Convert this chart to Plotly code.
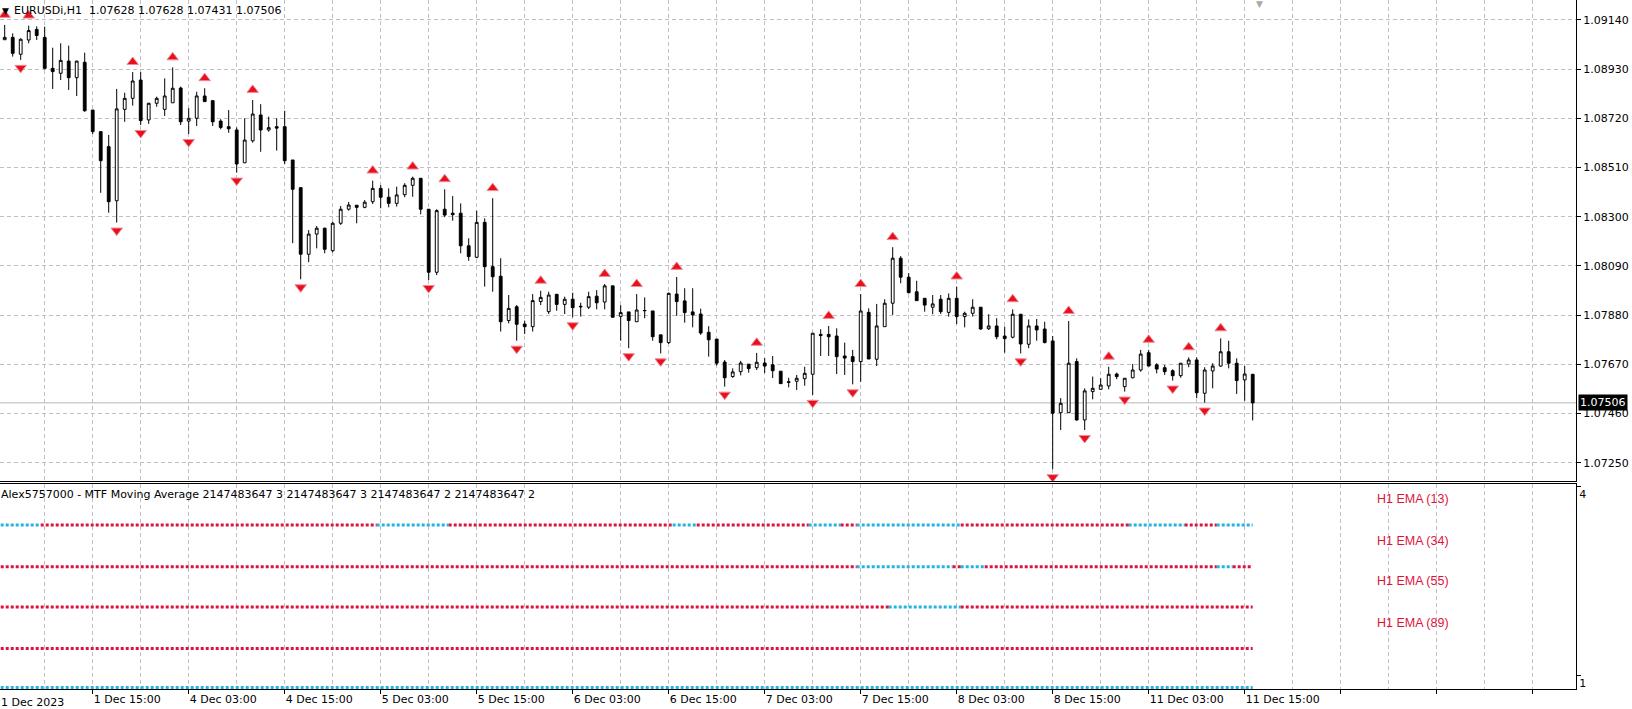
import plotly.graph_objects as go

# ---------------- data (EURUSDi, H1) ----------------
open_ = [
    1.09055, 1.09065, 1.08993, 1.09054, 1.09099, 1.09065, 1.08933, 1.08912, 1.08964, 1.08893,
    1.08959, 1.08755, 1.08663, 1.08599, 1.08368, 1.08758, 1.08805, 1.08883, 1.08713, 1.08784,
    1.08758, 1.08786, 1.08849, 1.08708, 1.08720, 1.08815, 1.08795, 1.08708, 1.08684, 1.08670,
    1.08530, 1.08624, 1.08734, 1.08670, 1.08684, 1.08684, 1.08542, 1.08424, 1.08140, 1.08226,
    1.08251, 1.08155, 1.08272, 1.08332, 1.08349, 1.08340, 1.08364, 1.08421, 1.08383, 1.08357,
    1.08394, 1.08434, 1.08464, 1.08332, 1.08063, 1.08332, 1.08315, 1.08315, 1.08176, 1.08127,
    1.08276, 1.08087, 1.08046, 1.07857, 1.07916, 1.07842, 1.07831, 1.07938, 1.07895, 1.07969,
    1.07926, 1.07948, 1.07918, 1.07914, 1.07961, 1.07936, 1.08005, 1.07875, 1.07894, 1.07852,
    1.07899, 1.07898, 1.07796, 1.07763, 1.07970, 1.07941, 1.07894, 1.07885, 1.07807, 1.07778,
    1.07680, 1.07618, 1.07639, 1.07671, 1.07656, 1.07676, 1.07668, 1.07641, 1.07596, 1.07598,
    1.07609, 1.07628, 1.07798, 1.07798, 1.07791, 1.07706, 1.07703, 1.07682, 1.07892, 1.07692,
    1.07831, 1.07931, 1.08123, 1.08042, 1.07980, 1.07952, 1.07914, 1.07948, 1.07892, 1.07952,
    1.07874, 1.07888, 1.07914, 1.07822, 1.07834, 1.07791, 1.07786, 1.07884, 1.07756, 1.07834,
    1.07821, 1.07770, 1.07464, 1.07464, 1.07682, 1.07433, 1.07554, 1.07564, 1.07578, 1.07629,
    1.07575, 1.07613, 1.07646, 1.07720, 1.07668, 1.07656, 1.07643, 1.07622, 1.07672, 1.07689,
    1.07547, 1.07642, 1.07663, 1.07724, 1.07675, 1.07604, 1.07628,
]
high_ = [
    1.09118, 1.09082, 1.09061, 1.09115, 1.09112, 1.09111, 1.09021, 1.09040, 1.09030, 1.08965,
    1.09000, 1.08755, 1.08663, 1.08649, 1.08845, 1.08829, 1.08917, 1.08917, 1.08786, 1.08812,
    1.08890, 1.08937, 1.08855, 1.08763, 1.08833, 1.08848, 1.08798, 1.08716, 1.08755, 1.08681,
    1.08720, 1.08798, 1.08780, 1.08727, 1.08720, 1.08752, 1.08542, 1.08424, 1.08243, 1.08260,
    1.08253, 1.08279, 1.08346, 1.08363, 1.08349, 1.08371, 1.08454, 1.08435, 1.08421, 1.08428,
    1.08443, 1.08471, 1.08464, 1.08332, 1.08332, 1.08417, 1.08388, 1.08357, 1.08208, 1.08326,
    1.08293, 1.08379, 1.08123, 1.07966, 1.07923, 1.07857, 1.07970, 1.07984, 1.07980, 1.07969,
    1.07959, 1.07976, 1.07933, 1.07980, 1.07987, 1.08013, 1.08005, 1.07923, 1.07894, 1.07970,
    1.07956, 1.07898, 1.07796, 1.07977, 1.08043, 1.07995, 1.07995, 1.07908, 1.07833, 1.07778,
    1.07689, 1.07653, 1.07685, 1.07671, 1.07719, 1.07697, 1.07706, 1.07641, 1.07613, 1.07625,
    1.07660, 1.07803, 1.07820, 1.07834, 1.07824, 1.07763, 1.07732, 1.07970, 1.07909, 1.07928,
    1.07948, 1.08170, 1.08132, 1.08059, 1.08027, 1.07952, 1.07966, 1.07966, 1.07973, 1.08002,
    1.07895, 1.07948, 1.07914, 1.07884, 1.07867, 1.07831, 1.07905, 1.07884, 1.07862, 1.07864,
    1.07852, 1.07791, 1.07526, 1.07855, 1.07696, 1.07568, 1.07618, 1.07611, 1.07660, 1.07635,
    1.07611, 1.07672, 1.07732, 1.07732, 1.07675, 1.07668, 1.07649, 1.07675, 1.07700, 1.07700,
    1.07658, 1.07675, 1.07781, 1.07771, 1.07696, 1.07663, 1.07628,
]
low_ = [
    1.09054, 1.08983, 1.08969, 1.09040, 1.09054, 1.08929, 1.08845, 1.08883, 1.08841, 1.08815,
    1.08748, 1.08653, 1.08402, 1.08317, 1.08275, 1.08705, 1.08774, 1.08691, 1.08696, 1.08769,
    1.08730, 1.08786, 1.08691, 1.08653, 1.08687, 1.08791, 1.08687, 1.08673, 1.08658, 1.08488,
    1.08530, 1.08616, 1.08577, 1.08663, 1.08582, 1.08525, 1.08187, 1.08033, 1.08106, 1.08165,
    1.08144, 1.08148, 1.08265, 1.08326, 1.08272, 1.08336, 1.08354, 1.08336, 1.08340, 1.08343,
    1.08383, 1.08385, 1.08310, 1.08030, 1.08051, 1.08298, 1.08283, 1.08144, 1.08112, 1.08123,
    1.08002, 1.07980, 1.07810, 1.07845, 1.07771, 1.07800, 1.07810, 1.07923, 1.07885, 1.07899,
    1.07885, 1.07871, 1.07874, 1.07906, 1.07905, 1.07905, 1.07871, 1.07771, 1.07739, 1.07852,
    1.07867, 1.07771, 1.07717, 1.07757, 1.07877, 1.07848, 1.07828, 1.07796, 1.07703, 1.07665,
    1.07575, 1.07613, 1.07623, 1.07635, 1.07646, 1.07633, 1.07612, 1.07587, 1.07572, 1.07561,
    1.07579, 1.07540, 1.07706, 1.07706, 1.07629, 1.07625, 1.07585, 1.07596, 1.07693, 1.07663,
    1.07831, 1.07881, 1.08016, 1.07973, 1.07942, 1.07895, 1.07884, 1.07885, 1.07874, 1.07842,
    1.07828, 1.07874, 1.07817, 1.07817, 1.07777, 1.07720, 1.07781, 1.07717, 1.07739, 1.07771,
    1.07760, 1.07223, 1.07390, 1.07464, 1.07430, 1.07390, 1.07521, 1.07561, 1.07564, 1.07607,
    1.07554, 1.07611, 1.07639, 1.07663, 1.07632, 1.07625, 1.07601, 1.07613, 1.07658, 1.07526,
    1.07507, 1.07568, 1.07660, 1.07653, 1.07544, 1.07515, 1.07431,
]
close_ = [
    1.09065, 1.08997, 1.09057, 1.09094, 1.09073, 1.08933, 1.08919, 1.08967, 1.08893, 1.08964,
    1.08752, 1.08663, 1.08539, 1.08364, 1.08760, 1.08805, 1.08879, 1.08710, 1.08784, 1.08805,
    1.08815, 1.08848, 1.08705, 1.08720, 1.08815, 1.08791, 1.08705, 1.08681, 1.08675, 1.08525,
    1.08627, 1.08738, 1.08670, 1.08680, 1.08678, 1.08539, 1.08417, 1.08140, 1.08226, 1.08251,
    1.08161, 1.08272, 1.08332, 1.08350, 1.08340, 1.08362, 1.08421, 1.08383, 1.08357, 1.08393,
    1.08434, 1.08464, 1.08332, 1.08063, 1.08326, 1.08307, 1.08309, 1.08176, 1.08130, 1.08276,
    1.08087, 1.08044, 1.07852, 1.07909, 1.07841, 1.07831, 1.07942, 1.07956, 1.07966, 1.07926,
    1.07948, 1.07912, 1.07916, 1.07959, 1.07933, 1.08005, 1.07871, 1.07891, 1.07857, 1.07902,
    1.07900, 1.07788, 1.07763, 1.07973, 1.07938, 1.07891, 1.07881, 1.07804, 1.07775, 1.07675,
    1.07613, 1.07638, 1.07676, 1.07652, 1.07679, 1.07663, 1.07643, 1.07588, 1.07594, 1.07611,
    1.07632, 1.07803, 1.07793, 1.07788, 1.07703, 1.07697, 1.07682, 1.07898, 1.07693, 1.07834,
    1.07931, 1.08123, 1.08042, 1.07976, 1.07942, 1.07923, 1.07928, 1.07895, 1.07952, 1.07874,
    1.07888, 1.07914, 1.07821, 1.07834, 1.07788, 1.07780, 1.07884, 1.07757, 1.07834, 1.07817,
    1.07763, 1.07462, 1.07504, 1.07675, 1.07433, 1.07557, 1.07568, 1.07582, 1.07628, 1.07618,
    1.07611, 1.07646, 1.07714, 1.07663, 1.07650, 1.07639, 1.07622, 1.07675, 1.07689, 1.07549,
    1.07646, 1.07663, 1.07724, 1.07675, 1.07601, 1.07629, 1.07506,
]
assert len(open_) == len(high_) == len(low_) == len(close_)

# fractal arrows (bar indexes)
up_fractal_bars = [0, 3, 16, 21, 25, 31, 46, 51, 55, 61, 67, 75, 79, 84, 94, 103, 107, 111,
                   119, 126, 133, 138, 143, 148, 152]
down_fractal_bars = [2, 14, 17, 23, 29, 37, 53, 64, 71, 78, 82, 90, 101, 106, 127, 131, 135,
                     140, 146, 150]

# time axis labels (bar index -> label)
time_tick_bars = [-1, 11, 23, 35, 47, 59, 71, 83, 95, 107, 119, 131, 143, 155]
time_tick_text = ["1 Dec 2023", "1 Dec 15:00", "4 Dec 03:00", "4 Dec 15:00", "5 Dec 03:00",
                  "5 Dec 15:00", "6 Dec 03:00", "6 Dec 15:00", "7 Dec 03:00", "7 Dec 15:00",
                  "8 Dec 03:00", "8 Dec 15:00", "11 Dec 03:00", "11 Dec 15:00"]

price_ticks = [1.09140, 1.08930, 1.08720, 1.08510, 1.08300, 1.08090, 1.07880, 1.07670,
               1.07460, 1.07250]

# MTF moving average sub-window
ma_names = ["H1 EMA (13)", "H1 EMA (34)", "H1 EMA (55)", "H1 EMA (89)", ""]
ma_levels = [3.38, 2.72, 2.08, 1.42, 0.80]
ma_up_runs = [
    [(0, 4), (47, 55), (84, 86), (101, 104), (107, 119), (141, 147), (152, 156)],
    [(107, 118), (120, 122), (152, 153)],
    [(111, 119)],
    [],
    [(0, 156)],
]
sub_ticks = [4, 1]

symbol_name = "EURUSDi,H1"
indicator_title = ("Alex5757000 - MTF Moving Average 2147483647 3 2147483647 3 "
                   "2147483647 2 2147483647 2")

# ---------------- styling ----------------
FONT = "DejaVu Sans"
GRID = "#C0C0C0"
GRID_DASH = "4px,3px"
UP_COL = "#22B4E2"
DN_COL = "#DC143C"
ARROW_RED = "#E8101C"
ARROW_EDGE = "#F08C98"

n = len(open_)
bars = list(range(n))
x_lo, x_hi = -0.5875, 196.4125
upper_dom = [0.3012, 1.0]
lower_dom = [0.0, 0.2975]
price_rng = [1.071706, 1.092245]
sub_rng = [0.778, 4.032]

fig = go.Figure()

fig.add_trace(go.Candlestick(
    x=bars, open=open_, high=high_, low=low_, close=close_,
    increasing=dict(line=dict(color="black", width=1), fillcolor="white"),
    decreasing=dict(line=dict(color="black", width=1), fillcolor="black"),
    whiskerwidth=0, xaxis="x", yaxis="y", hoverinfo="skip", showlegend=False,
))

UP_GAP = 0.00043
DN_GAP = 0.00034
fig.add_trace(go.Scatter(
    x=up_fractal_bars, y=[high_[i] + UP_GAP for i in up_fractal_bars],
    mode="markers", xaxis="x", yaxis="y", hoverinfo="skip", showlegend=False,
    marker=dict(symbol="triangle-up", size=10, color=ARROW_RED,
                line=dict(color=ARROW_EDGE, width=1)),
))
fig.add_trace(go.Scatter(
    x=down_fractal_bars, y=[low_[i] - DN_GAP for i in down_fractal_bars],
    mode="markers", xaxis="x", yaxis="y", hoverinfo="skip", showlegend=False,
    marker=dict(symbol="triangle-down", size=10, color=ARROW_RED,
                line=dict(color=ARROW_EDGE, width=1)),
))


def runs_of(up_runs, count):
    state = [False] * count
    for a, b in up_runs:
        for i in range(a, b + 1):
            state[i] = True
    out, start = [], 0
    for i in range(1, count + 1):
        if i == count or state[i] != state[start]:
            out.append((start, i - 1, state[start]))
            start = i
    return out


for level, up_runs in zip(ma_levels, ma_up_runs):
    xs = {True: [], False: []}
    ys = {True: [], False: []}
    for a, b, is_up in runs_of(up_runs, n):
        xs[is_up] += [a - 0.5, min(b + 0.5, n - 1), None]
        ys[is_up] += [level, level, None]
    for is_up, col in ((True, UP_COL), (False, DN_COL)):
        if xs[is_up]:
            fig.add_trace(go.Scatter(
                x=xs[is_up], y=ys[is_up], mode="lines", xaxis="x2", yaxis="y2",
                line=dict(color=col, width=3, dash="3px,2px"), connectgaps=False,
                cliponaxis=False, hoverinfo="skip", showlegend=False,
            ))

grid_major = [b for b in range(11, int(x_hi) + 1, 12)]
grid_minor = [b for b in range(5, int(x_hi) + 1, 12)]
in_range_ticks = [(b, t) for b, t in zip(time_tick_bars, time_tick_text) if b >= x_lo]
out_range_ticks = [(b, t) for b, t in zip(time_tick_bars, time_tick_text) if b < x_lo]

common_x = dict(
    range=[x_lo, x_hi], showgrid=True, gridcolor=GRID, griddash=GRID_DASH, gridwidth=1,
    zeroline=False, showline=True, linecolor="black", linewidth=1, mirror=True,
    minor=dict(tickmode="array", tickvals=grid_minor, showgrid=True, gridcolor=GRID,
               griddash=GRID_DASH, gridwidth=1, ticks=""),
)

extra_grid = [b for b in grid_major if b > time_tick_bars[-1]]

fig.update_layout(
    width=1632, height=709,
    margin=dict(l=0, r=56, t=0, b=20),
    paper_bgcolor="white", plot_bgcolor="white",
    font=dict(family=FONT, size=11, color="black"),
    hovermode=False, showlegend=False,
    boxgap=0.5,
    xaxis=dict(domain=[0, 1], anchor="y", showticklabels=False, ticks="",
               tickmode="array", tickvals=grid_major,
               rangeslider=dict(visible=False), **common_x),
    xaxis2=dict(domain=[0, 1], anchor="y2", tickmode="array",
                tickvals=[b for b, _ in in_range_ticks] + extra_grid,
                ticktext=[t for _, t in in_range_ticks] + ["" for _ in extra_grid],
                ticks="outside", ticklen=4, tickcolor="black",
                ticklabelposition="outside right",
                tickfont=dict(family=FONT, size=11, color="black"), **common_x),
    yaxis=dict(domain=upper_dom, anchor="x", side="right", range=price_rng,
               tickmode="array", tickvals=price_ticks,
               ticktext=[f"{p:.5f}" for p in price_ticks],
               ticks="outside", ticklen=4, tickcolor="black",
               tickfont=dict(family=FONT, size=11, color="black"),
               showgrid=True, gridcolor=GRID, griddash=GRID_DASH, gridwidth=1,
               zeroline=False, showline=True, linecolor="black", linewidth=1, mirror=False),
    yaxis2=dict(domain=lower_dom, anchor="x2", side="right", range=sub_rng,
                tickmode="array", tickvals=sub_ticks, ticktext=[str(v) for v in sub_ticks],
                ticks="outside", ticklen=4, tickcolor="black",
                ticklabelposition="outside bottom",
                tickfont=dict(family=FONT, size=11, color="black"),
                showgrid=False, zeroline=False, showline=True, linecolor="black",
                linewidth=1, mirror=False),
)

last_price = close_[-1]
fig.add_shape(type="line", xref="paper", yref="y", x0=0, x1=1, y0=last_price, y1=last_price,
              line=dict(color="#B8B8B8", width=1), layer="below")

annotations = [
    dict(xref="paper", yref="paper", x=0, y=1, xanchor="left", yanchor="top",
         text="▼", showarrow=False, font=dict(size=9, color="black"), xshift=0, yshift=-4),
    dict(xref="paper", yref="paper", x=0, y=1, xanchor="left", yanchor="top",
         text=f"{symbol_name}\u00a0 {open_[-1]:.5f} {high_[-1]:.5f} {low_[-1]:.5f} {close_[-1]:.5f}",
         showarrow=False, font=dict(size=11, color="black"), xshift=12, yshift=-2),
    dict(xref="paper", yref="paper", x=0, y=lower_dom[1], xanchor="left", yanchor="top",
         text=indicator_title, showarrow=False, font=dict(size=11, color="black"),
         xshift=-1, yshift=-2),
    dict(xref="paper", yref="y", x=1, y=last_price, xanchor="left", yanchor="middle",
         text=f"{last_price:.5f}", showarrow=False, bgcolor="black",
         font=dict(size=11, color="white"), borderpad=1, xshift=2),
    dict(xref="paper", yref="paper", x=1259.5 / 1576, y=1, xanchor="center", yanchor="top",
         text="▼", showarrow=False, font=dict(size=9, color="#A8A8A8"), yshift=3),
]
# first time label sits at the left edge of the chart
for b, t in out_range_ticks:
    annotations.append(dict(xref="paper", yref="paper", x=0, y=0,
                            xanchor="left", yanchor="top", text=t, showarrow=False,
                            font=dict(size=11, color="black"), xshift=-1, yshift=-5))
MA_LABEL_BAR = 176
for name, level in zip(ma_names, ma_levels):
    if name:
        annotations.append(dict(xref="x2", yref="y2", x=MA_LABEL_BAR, y=level,
                                xanchor="center", yanchor="middle", text=name,
                                showarrow=False, yshift=26,
                                font=dict(family="Liberation Sans", size=12.5, color=DN_COL)))
fig.update_layout(annotations=annotations)

fig.write_html("out.html")
